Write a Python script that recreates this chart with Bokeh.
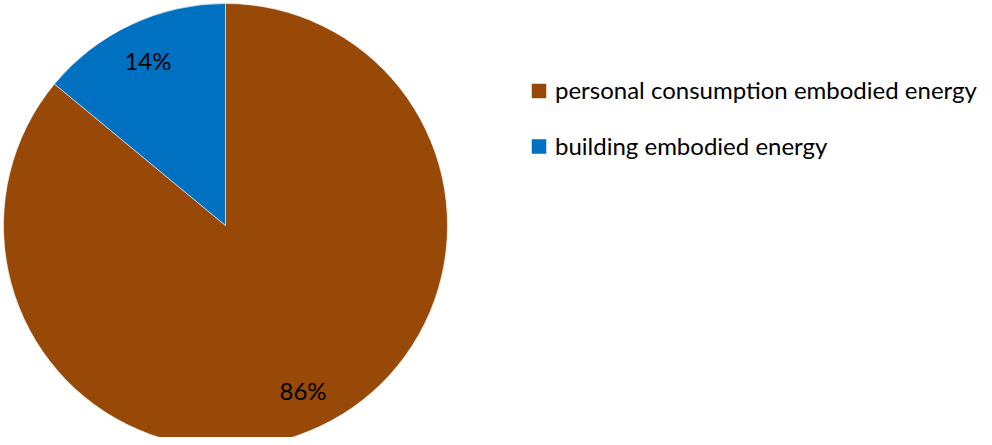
import numpy as np
from bokeh.plotting import figure
from bokeh.models import Range1d
from bokeh.embed import file_html
from bokeh.resources import INLINE
from bokeh.core.properties import value

categories = ["personal consumption embodied energy", "building embodied energy"]
shares = [86, 14]
colors = ["#984807", "#0070C0"]
pct_labels = ["86%", "14%"]

W, H = 984, 437

p = figure(width=W, height=H, x_range=Range1d(0, W), y_range=Range1d(0, H),
           output_backend="svg", toolbar_location=None, min_border=0)
p.axis.visible = False
p.grid.visible = False
p.outline_line_color = None
p.background_fill_color = "white"
p.border_fill_color = "white"

# y data = H - (pixel row)
cx, cy, R = 225, H - 225, 222

frac = np.array(shares, dtype=float) / np.sum(shares)
cum = np.concatenate([[0], np.cumsum(frac)])
a = np.pi / 2 - 2 * np.pi * cum  # clockwise from top
starts = a[1:]
ends = a[:-1]

p.wedge(x=cx, y=cy, radius=R, start_angle=list(starts), end_angle=list(ends),
        fill_color=colors, line_color="white", line_width=0.8, line_alpha=0.7)

mid = (starts + ends) / 2
lr = 0.82 * R
p.text(x=list(cx + lr * np.cos(mid)), y=list(cy + lr * np.sin(mid)), text=pct_labels,
       text_font=value("Lato"), text_font_size="24px", text_color="black",
       text_align="center", text_baseline="middle")

# legend
lx = 538.5
row_gap = 55.5
sq_y = [H - 90.5 - i * row_gap for i in range(len(categories))]
txt_y = [H - 89 - i * row_gap for i in range(len(categories))]
p.scatter(x=[lx] * len(categories), y=sq_y, marker="square", size=14.5,
          fill_color=colors, line_color=None)
p.text(x=[554.5] * len(categories), y=txt_y, text=categories,
       text_font=value("Lato"), text_font_size="24px", text_color="black",
       text_align="left", text_baseline="middle")

open("out.html", "w").write(file_html(p, INLINE))
